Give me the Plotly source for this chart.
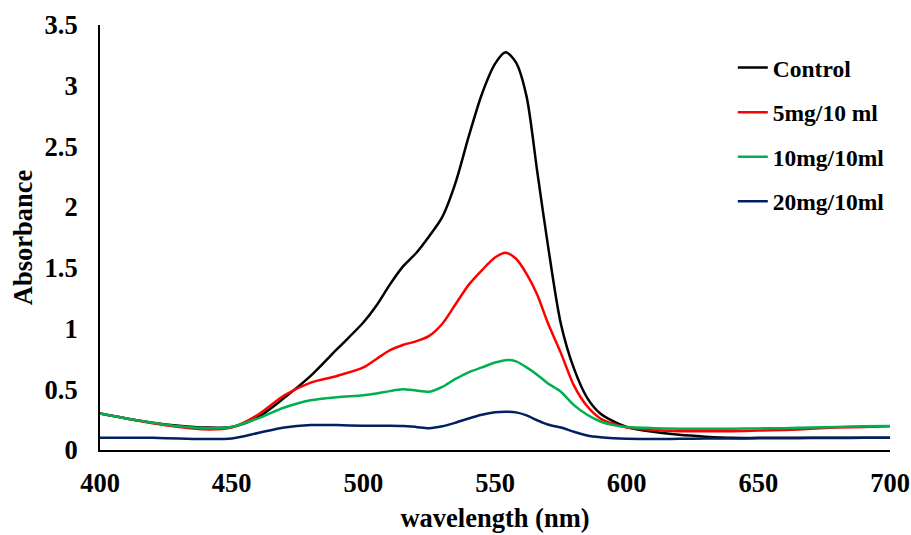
import plotly.graph_objects as go

# Wavelength grid (nm)
wavelength = [400, 410, 420, 430, 440, 450, 460, 470, 480, 490, 500, 505, 510, 515,
              520, 525, 530, 535, 540, 545, 550, 554, 558, 562, 566, 570, 575, 580,
              585, 590, 595, 600, 610, 620, 630, 640, 650, 660, 670, 680, 690, 700]

control = [0.30, 0.26, 0.225, 0.20, 0.185, 0.19, 0.27, 0.43, 0.61, 0.83, 1.05, 1.19, 1.36, 1.51,
           1.62, 1.76, 1.92, 2.20, 2.58, 2.93, 3.18, 3.275, 3.19, 2.91, 2.30, 1.70, 1.04, 0.67,
           0.43, 0.30, 0.235, 0.19, 0.15, 0.125, 0.11, 0.10, 0.10, 0.10, 0.10, 0.10, 0.10, 0.10]

dose_5mg = [0.30, 0.26, 0.22, 0.19, 0.17, 0.185, 0.29, 0.45, 0.555, 0.61, 0.68, 0.75, 0.82, 0.865,
            0.895, 0.94, 1.04, 1.20, 1.36, 1.48, 1.585, 1.625, 1.575, 1.45, 1.28, 1.05, 0.80, 0.53,
            0.36, 0.26, 0.215, 0.185, 0.165, 0.155, 0.155, 0.155, 0.16, 0.165, 0.175, 0.185, 0.19, 0.195]

dose_10mg = [0.30, 0.26, 0.225, 0.195, 0.18, 0.19, 0.26, 0.35, 0.41, 0.435, 0.45, 0.465, 0.485, 0.50,
             0.49, 0.48, 0.52, 0.585, 0.64, 0.68, 0.72, 0.74, 0.73, 0.68, 0.62, 0.55, 0.48, 0.37,
             0.29, 0.235, 0.205, 0.19, 0.18, 0.175, 0.175, 0.175, 0.178, 0.18, 0.185, 0.19, 0.195, 0.197]

dose_20mg = [0.10, 0.10, 0.10, 0.095, 0.09, 0.095, 0.14, 0.185, 0.205, 0.205, 0.20, 0.20, 0.20, 0.198,
             0.19, 0.18, 0.195, 0.225, 0.26, 0.29, 0.31, 0.315, 0.31, 0.285, 0.245, 0.21, 0.185, 0.15,
             0.12, 0.105, 0.097, 0.093, 0.09, 0.092, 0.094, 0.095, 0.096, 0.097, 0.098, 0.099, 0.10, 0.10]

series_names = ["Control", "5mg/10 ml", "10mg/10ml", "20mg/10ml"]
series_values = [control, dose_5mg, dose_10mg, dose_20mg]
series_colors = ["#000000", "#FF0000", "#00B050", "#002060"]

x_ticks = [400, 450, 500, 550, 600, 650, 700]
y_ticks = [0, 0.5, 1, 1.5, 2, 2.5, 3, 3.5]
y_tick_text = ["0", "0.5", "1", "1.5", "2", "2.5", "3", "3.5"]

FONT = "Liberation Serif, Times New Roman, serif"

fig = go.Figure()
for i, (name, vals, col) in enumerate(zip(series_names, series_values, series_colors)):
    fig.add_trace(go.Scatter(
        x=wavelength, y=vals, mode="lines", name=name,
        line=dict(color=col, width=2.5, shape="spline", smoothing=0.8),
        legendgroup=f"g{i}",
    ))

fig.update_layout(
    width=911, height=535,
    margin=dict(l=100, r=21, t=25, b=85),
    paper_bgcolor="white", plot_bgcolor="white",
    font=dict(family=FONT, size=26.5, color="black", weight="bold"),
    showlegend=True,
    legend=dict(
        x=0.801, y=0.951, xanchor="left", yanchor="top",
        bgcolor="rgba(0,0,0,0)", tracegroupgap=11,
        font=dict(family=FONT, size=23.5, color="black", weight="bold"),
    ),
    xaxis=dict(
        range=[400, 700], tickvals=x_ticks, showgrid=False, zeroline=False,
        showline=True, linecolor="black", linewidth=2, ticks="",
        tickfont=dict(size=26.5), ticklabelstandoff=8, automargin=False,
        title=dict(text="wavelength (nm)", font=dict(size=26.5), standoff=12),
    ),
    yaxis=dict(
        range=[0, 3.5], tickvals=y_ticks, ticktext=y_tick_text, showgrid=False, zeroline=False,
        showline=True, linecolor="black", linewidth=2, ticks="",
        tickfont=dict(size=26.5), ticklabelstandoff=15, automargin=False,
        title=dict(text="Absorbance", font=dict(size=26.5), standoff=4),
    ),
)

fig.write_html("out.html")
